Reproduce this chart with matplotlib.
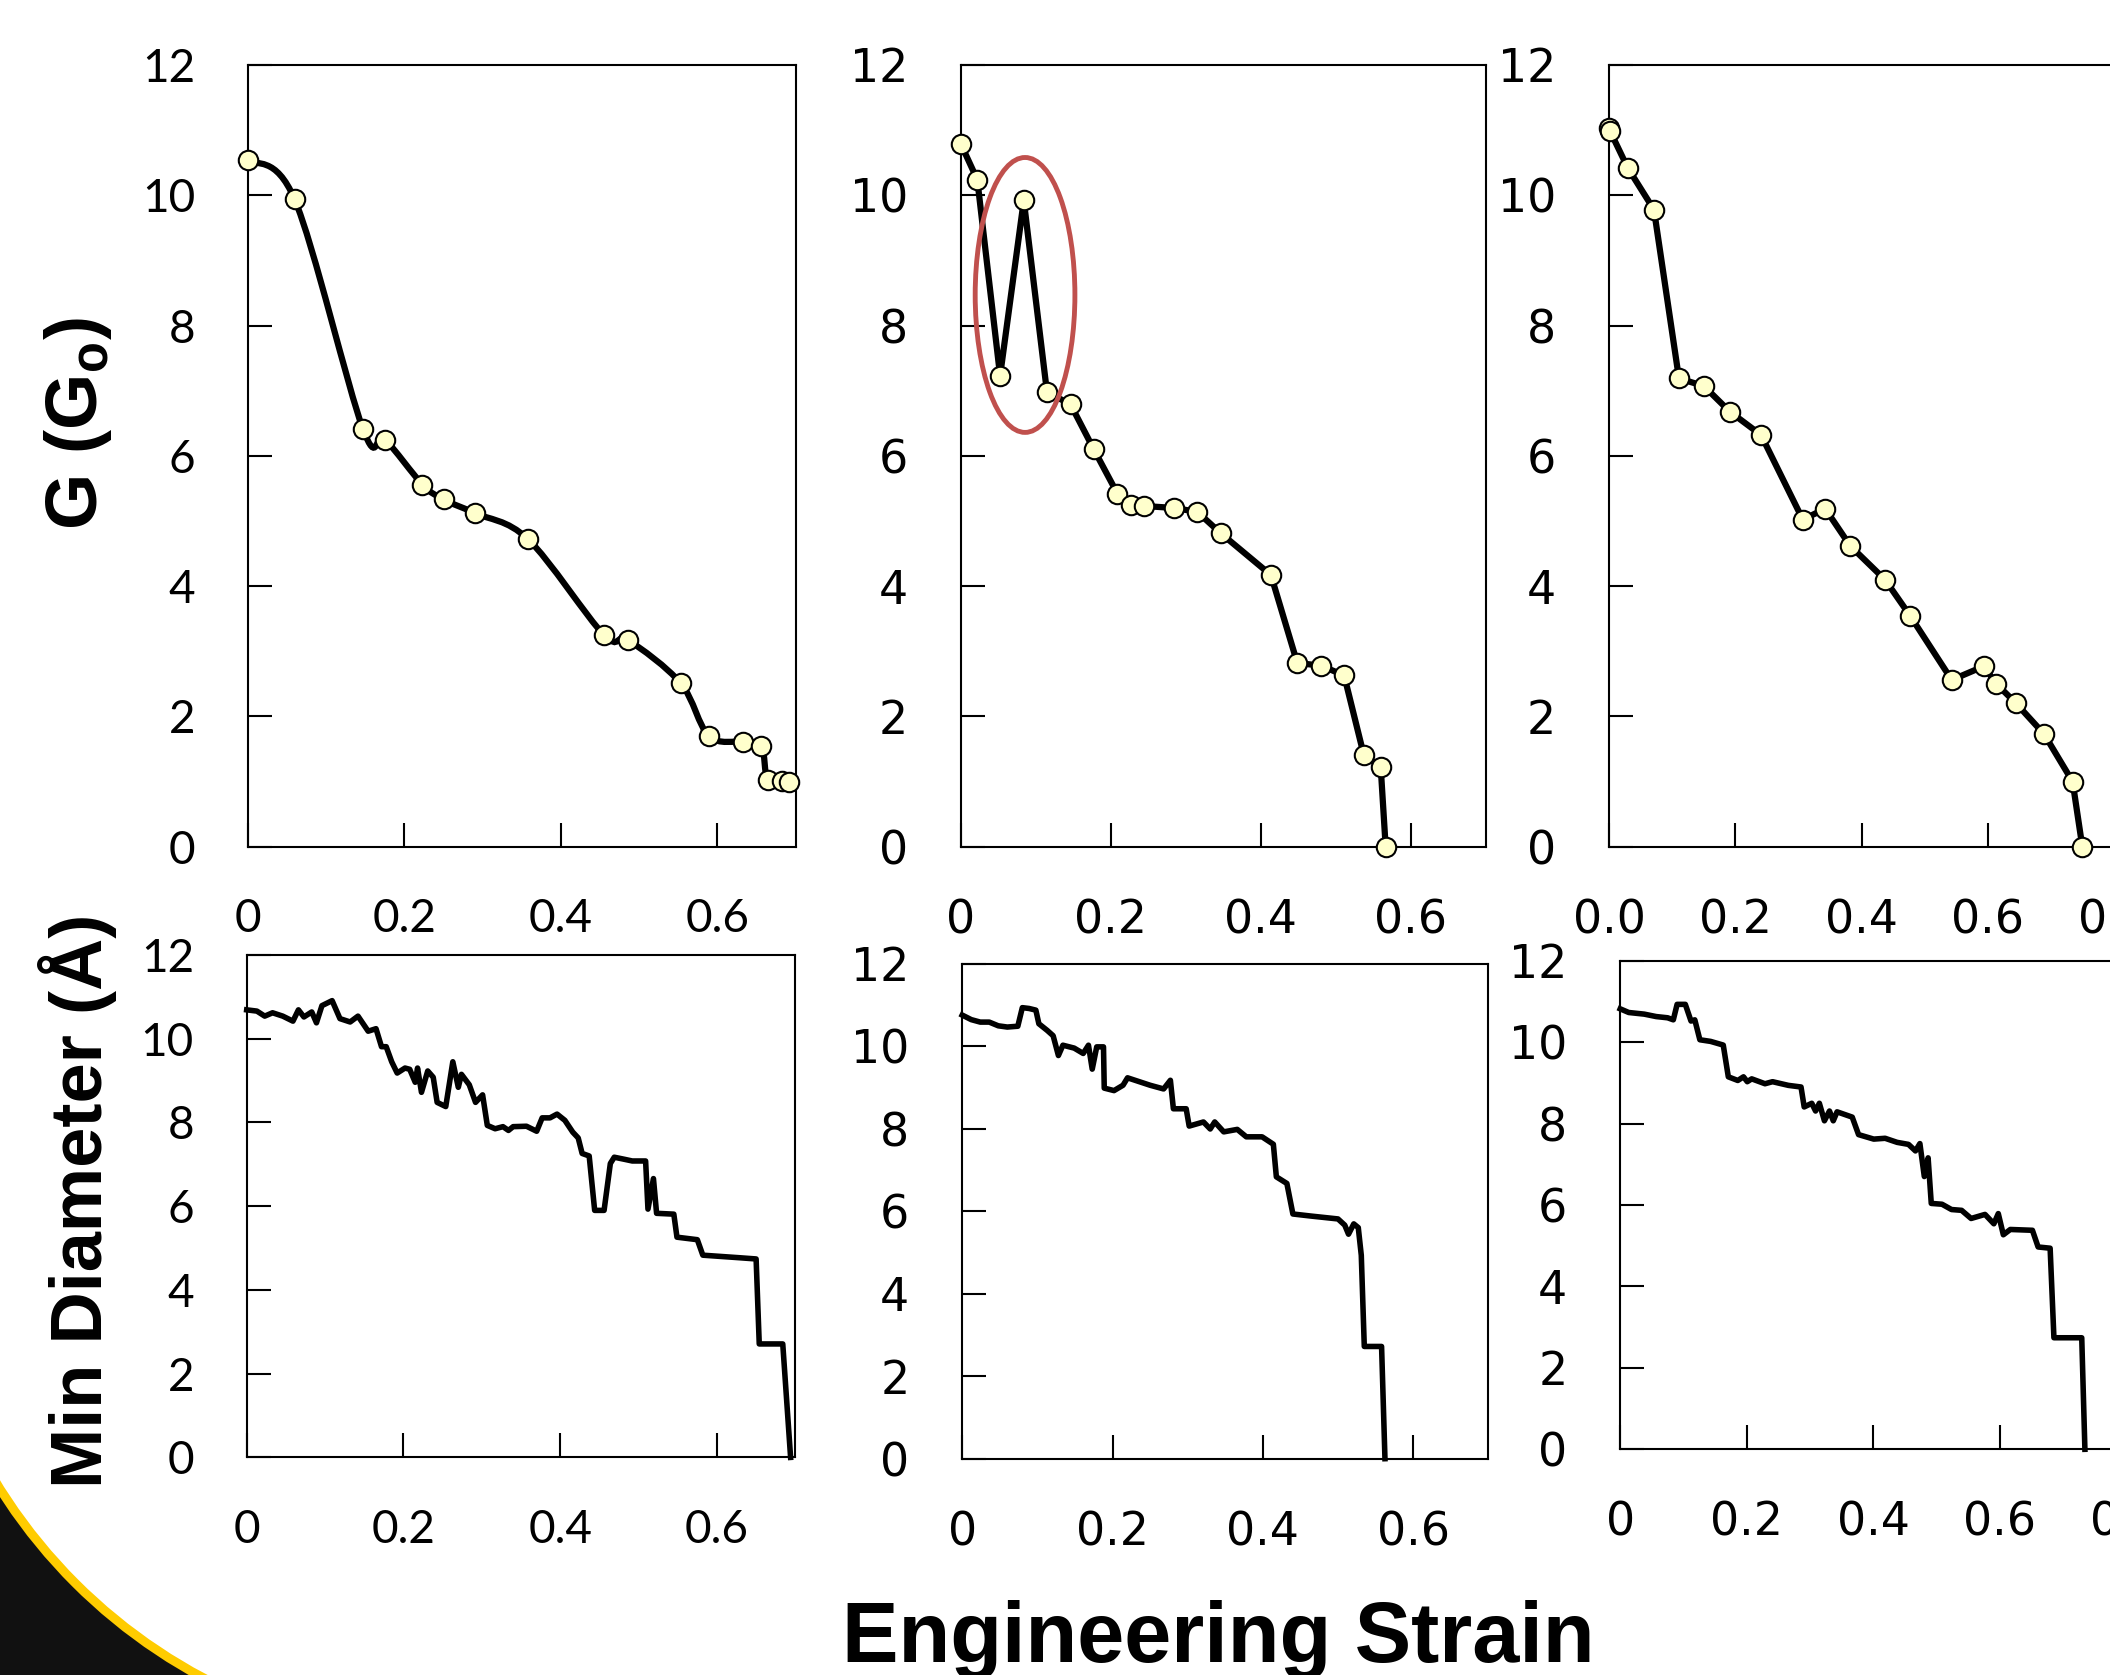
import matplotlib
matplotlib.use("Agg")
import matplotlib.pyplot as plt
from matplotlib.patches import Ellipse, Rectangle, Circle, PathPatch
from matplotlib.path import Path

plt.rcParams["mathtext.fontset"] = "custom"
plt.rcParams["mathtext.rm"] = "Liberation Sans"
plt.rcParams["mathtext.bf"] = "Liberation Sans:bold"

W, H = 2110, 1675

# ---- conductance G (Go) vs engineering strain, three runs ----
g1_strain = [0.0, 0.0595, 0.147, 0.175, 0.223, 0.250, 0.290, 0.358, 0.455, 0.486,
             0.553, 0.589, 0.633, 0.656, 0.664, 0.682, 0.692]
g1_cond = [10.54, 9.94, 6.41, 6.25, 5.56, 5.33, 5.12, 4.72, 3.25, 3.17,
           2.51, 1.70, 1.61, 1.55, 1.02, 1.01, 1.00]

g2_strain = [0.0, 0.022, 0.0524, 0.084, 0.1149, 0.1464, 0.1774, 0.2089, 0.2268, 0.2446,
             0.2845, 0.3155, 0.347, 0.4137, 0.4488, 0.4804, 0.5113, 0.5375, 0.5601, 0.5667]
g2_cond = [10.79, 10.24, 7.23, 9.92, 6.98, 6.79, 6.10, 5.42, 5.25, 5.23,
           5.20, 5.14, 4.81, 4.17, 2.82, 2.78, 2.63, 1.41, 1.22, 0.0]

g3_strain = [0.0, 0.002, 0.0297, 0.0712, 0.1108, 0.1505, 0.1913, 0.2409, 0.3071, 0.3424,
             0.382, 0.4372, 0.4774, 0.543, 0.5938, 0.6136, 0.644, 0.6892, 0.7344, 0.7498]
g3_cond = [11.03, 10.98, 10.42, 9.78, 7.19, 7.07, 6.68, 6.32, 5.02, 5.19,
           4.62, 4.10, 3.54, 2.56, 2.77, 2.50, 2.21, 1.73, 1.00, 0.0]

# ---- minimum diameter (Angstrom) vs engineering strain ----
d1_strain = [0.0, 0.013, 0.023, 0.033, 0.046, 0.059, 0.066, 0.073, 0.083, 0.089,
             0.096, 0.109, 0.119, 0.132, 0.142, 0.155, 0.165, 0.172, 0.178, 0.185,
             0.192, 0.202, 0.208, 0.215, 0.218, 0.223, 0.231, 0.238, 0.243, 0.254,
             0.263, 0.270, 0.274, 0.284, 0.292, 0.301, 0.307, 0.317, 0.327, 0.334,
             0.340, 0.357, 0.370, 0.377, 0.387, 0.396, 0.406, 0.416, 0.423, 0.428,
             0.437, 0.444, 0.456, 0.464, 0.469, 0.482, 0.492, 0.509, 0.512, 0.519,
             0.523, 0.545, 0.549, 0.575, 0.582, 0.628, 0.650, 0.654, 0.684, 0.694]
d1_diam = [10.69, 10.66, 10.54, 10.62, 10.54, 10.42, 10.69, 10.52, 10.64, 10.38,
           10.79, 10.91, 10.48, 10.40, 10.54, 10.18, 10.24, 9.81, 9.81, 9.45,
           9.18, 9.30, 9.27, 8.96, 9.30, 8.72, 9.23, 9.08, 8.48, 8.38,
           9.45, 8.84, 9.15, 8.90, 8.48, 8.66, 7.93, 7.85, 7.90, 7.81,
           7.90, 7.91, 7.79, 8.11, 8.11, 8.20, 8.05, 7.77, 7.63, 7.26,
           7.20, 5.90, 5.90, 7.02, 7.17, 7.12, 7.08, 7.08, 5.93, 6.66,
           5.83, 5.81, 5.26, 5.20, 4.83, 4.77, 4.74, 2.71, 2.71, 0.0]

d2_strain = [0.0, 0.012, 0.024, 0.036, 0.048, 0.060, 0.074, 0.080, 0.089, 0.098,
             0.102, 0.113, 0.121, 0.128, 0.134, 0.149, 0.161, 0.168, 0.173, 0.179,
             0.188, 0.189, 0.202, 0.214, 0.220, 0.250, 0.268, 0.277, 0.281, 0.298,
             0.302, 0.321, 0.330, 0.336, 0.348, 0.366, 0.378, 0.399, 0.414, 0.418,
             0.432, 0.440, 0.464, 0.500, 0.509, 0.514, 0.521, 0.527, 0.531, 0.535,
             0.558, 0.5625]
d2_diam = [10.75, 10.64, 10.58, 10.58, 10.49, 10.46, 10.48, 10.93, 10.91, 10.87,
           10.54, 10.38, 10.25, 9.77, 10.02, 9.95, 9.82, 10.02, 9.44, 9.98,
           9.98, 8.98, 8.92, 9.05, 9.23, 9.05, 8.96, 9.17, 8.48, 8.48,
           8.06, 8.16, 7.99, 8.16, 7.92, 7.98, 7.80, 7.80, 7.62, 6.83,
           6.67, 5.93, 5.88, 5.81, 5.66, 5.44, 5.69, 5.60, 4.93, 2.72,
           2.72, 0.0]

d3_strain = [0.0, 0.0135, 0.038, 0.057, 0.075, 0.084, 0.090, 0.103, 0.112, 0.118,
             0.126, 0.143, 0.163, 0.171, 0.186, 0.195, 0.201, 0.208, 0.229, 0.241,
             0.266, 0.286, 0.291, 0.303, 0.309, 0.315, 0.323, 0.331, 0.337, 0.343,
             0.367, 0.377, 0.401, 0.419, 0.438, 0.456, 0.467, 0.474, 0.481, 0.487,
             0.492, 0.509, 0.524, 0.540, 0.555, 0.577, 0.591, 0.598, 0.606, 0.617,
             0.652, 0.661, 0.680, 0.686, 0.730, 0.735]
d3_diam = [10.82, 10.73, 10.69, 10.63, 10.60, 10.55, 10.93, 10.93, 10.52, 10.55,
           10.06, 10.02, 9.93, 9.15, 9.06, 9.15, 9.03, 9.10, 8.98, 9.03,
           8.94, 8.90, 8.41, 8.50, 8.31, 8.50, 8.07, 8.31, 8.07, 8.29,
           8.16, 7.73, 7.62, 7.64, 7.54, 7.49, 7.33, 7.51, 6.70, 7.16,
           6.04, 6.02, 5.89, 5.87, 5.67, 5.77, 5.54, 5.79, 5.27, 5.40,
           5.38, 4.97, 4.94, 2.74, 2.74, 0.0]

y_ticks = [0, 2, 4, 6, 8, 10, 12]
x_ticks_short = [0, 0.2, 0.4, 0.6]
x_labels_short = ["0", "0.2", "0.4", "0.6"]
x_ticks_long = [0, 0.2, 0.4, 0.6, 0.8]

fig = plt.figure(figsize=(W / 100, H / 100), dpi=100)

# slide template corner in the background
bg = fig.add_axes([0, 0, 1, 1], zorder=-5)
bg.set_xlim(0, W)
bg.set_ylim(H, 0)
bg.axis("off")
corner = Rectangle((0, 1380), 330, 300, facecolor="#111111", edgecolor="none")
bg.add_patch(corner)
for r, c in [(546, "#FFCC00"), (537, "white")]:
    circ = Circle((458, 1200), r, facecolor=c, edgecolor="none")
    bg.add_patch(circ)
    circ.set_clip_path(corner)


def panel(l, t, r, b):
    return fig.add_axes([l / W, 1 - b / H, (r - l) / W, (b - t) / H], facecolor="none")


def style(ax, font, xmax, xticks, xlabels):
    ax.set_xlim(0, xmax)
    ax.set_ylim(0, 12)
    ax.set_yticks(y_ticks, labels=[str(v) for v in y_ticks], fontfamily=font, fontsize=33)
    ax.set_xticks(xticks, labels=xlabels, fontfamily=font, fontsize=33)
    ax.tick_params(axis="both", direction="in", length=17, width=1.5, color="black")
    ax.tick_params(axis="y", pad=38)
    ax.tick_params(axis="x", pad=37)
    for s in ax.spines.values():
        s.set_linewidth(1.5)


def smooth_path(xs, ys):
    # Excel-style smoothed line: Catmull-Rom segments as cubic Beziers
    pts = list(zip(xs, ys))
    verts = [pts[0]]
    codes = [Path.MOVETO]
    n = len(pts)
    for i in range(n - 1):
        p0 = pts[max(i - 1, 0)]
        p1 = pts[i]
        p2 = pts[i + 1]
        p3 = pts[min(i + 2, n - 1)]
        c1 = (p1[0] + (p2[0] - p0[0]) / 6, p1[1] + (p2[1] - p0[1]) / 6)
        c2 = (p2[0] - (p3[0] - p1[0]) / 6, p2[1] - (p3[1] - p1[1]) / 6)
        verts += [c1, c2, p2]
        codes += [Path.CURVE4] * 3
    return Path(verts, codes)


marker_style = dict(marker="o", markersize=14, markerfacecolor="#FFFFCC",
                    markeredgecolor="black", markeredgewidth=1.5, clip_on=False, zorder=4)

top = [
    (panel(248, 65, 795.7, 846.7), "Lato", 0.7, x_ticks_short, x_labels_short, g1_strain, g1_cond),
    (panel(960.8, 65, 1485.6, 846.7), "DejaVu Sans", 0.7, x_ticks_short, x_labels_short, g2_strain, g2_cond),
    (panel(1609, 65, 2114, 846.7), "DejaVu Sans", 0.8, x_ticks_long,
     ["0.0", "0.2", "0.4", "0.6", "0.8"], g3_strain, g3_cond),
]
for k, (ax, font, xmax, xt, xl, xs, ys) in enumerate(top):
    style(ax, font, xmax, xt, xl)
    if k == 0:
        ax.add_patch(PathPatch(smooth_path(xs, ys), facecolor="none", edgecolor="black",
                               linewidth=4.5, zorder=3, clip_on=False))
        ax.plot(xs, ys, linestyle="none", **marker_style)
    else:
        ax.plot(xs, ys, color="black", linewidth=4.5, **marker_style)

# the irregular jump in run 2
ax2 = top[1][0]
ax2.add_patch(Ellipse((0.0857, 8.47), 0.133, 4.22, fill=False,
                      edgecolor="#C0504D", linewidth=3.5, zorder=5))

bottom = [
    (panel(246.7, 955, 795.3, 1457.4), "Lato", 0.7, x_ticks_short, x_labels_short, d1_strain, d1_diam),
    (panel(962.2, 963.5, 1488.3, 1458.7), "DejaVu Sans", 0.7, x_ticks_short, x_labels_short, d2_strain, d2_diam),
    (panel(1620.2, 960.8, 2126, 1449.3), "DejaVu Sans", 0.8, x_ticks_long,
     ["0", "0.2", "0.4", "0.6", "0.8"], d3_strain, d3_diam),
]
for ax, font, xmax, xt, xl, xs, ys in bottom:
    style(ax, font, xmax, xt, xl)
    ax.plot(xs, ys, color="black", linewidth=4, clip_on=False, zorder=3,
            solid_joinstyle="round")

fig.text(78 / W, 1 - 424 / H, r"G (G$_\mathbf{o}$)", rotation=90, ha="center", va="center",
         fontsize=52, fontweight="bold", fontfamily="Liberation Sans")
fig.text(78 / W, 1 - 1201 / H, "Min Diameter (Å)", rotation=90, ha="center", va="center",
         fontsize=52, fontweight="bold", fontfamily="Liberation Sans")
fig.text(1218 / W, 1 - 1662 / H, "Engineering Strain", ha="center", va="baseline",
         fontsize=61, fontweight="bold", fontfamily="Liberation Sans")

fig.savefig("out.png", dpi=100)
